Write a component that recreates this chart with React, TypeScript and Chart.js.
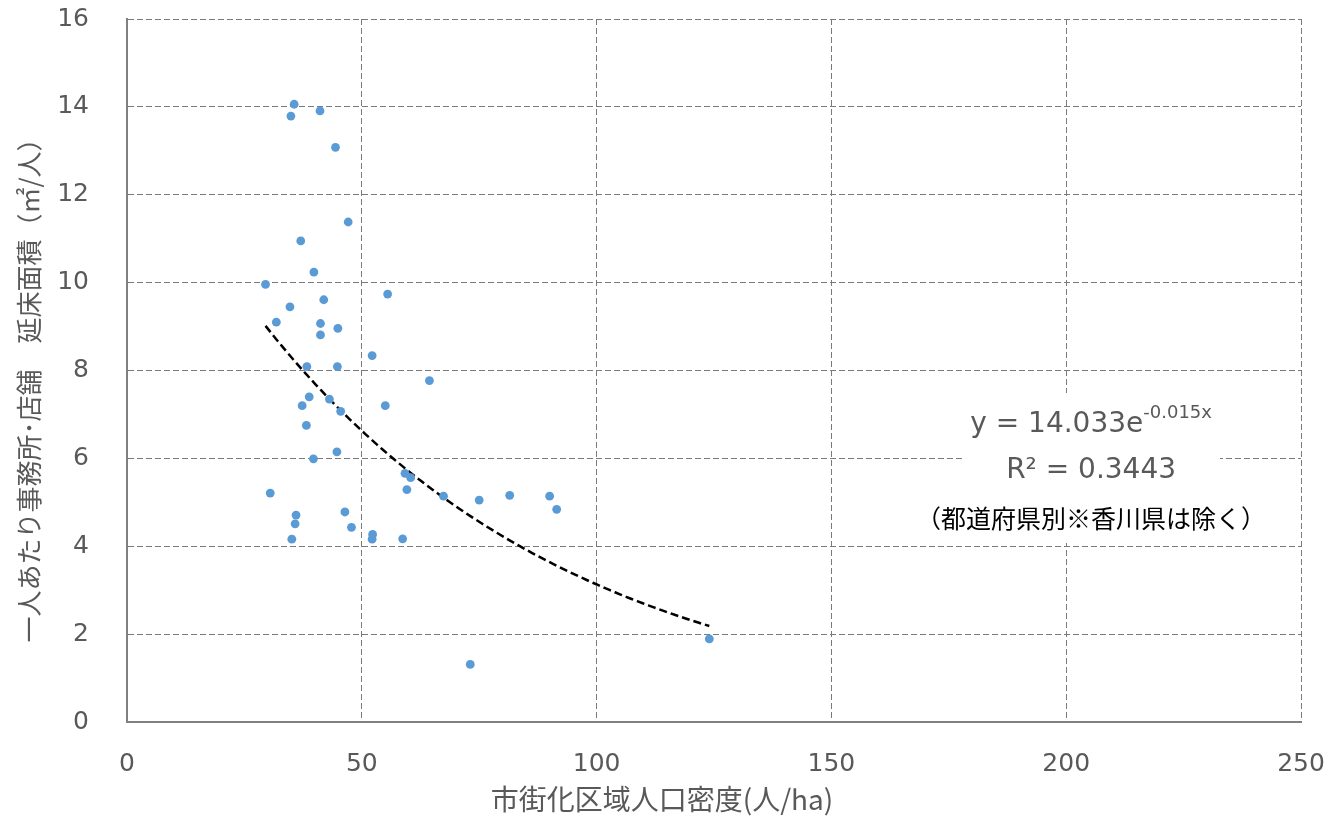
import React, { useEffect, useRef } from "react";
import { Chart, registerables } from "chart.js";

Chart.register(...registerables);

// 市街化区域人口密度 (人/ha)
const densityX: number[] = [
  35.6, 34.9, 41.1, 44.4, 47.1, 37.0, 39.8, 29.5, 55.5, 41.9, 34.7, 31.8, 41.2, 44.9, 41.2, 52.2,
  38.3, 44.8, 64.4, 38.8, 43.1, 37.3, 55.0, 45.5, 38.2, 44.7, 39.7, 59.2, 60.4, 30.5, 59.6, 67.4,
  75.0, 81.5, 90.0, 91.5, 36.0, 46.4, 35.8, 47.8, 52.3, 52.2, 35.1, 58.7, 73.1, 124.0,
];
// 一人あたり事務所・店舗 延床面積 (㎡/人)
const floorAreaY: number[] = [
  14.06, 13.79, 13.91, 13.08, 11.38, 10.95, 10.24, 9.96, 9.74, 9.61, 9.45, 9.1, 9.07, 8.96, 8.81, 8.34,
  8.09, 8.09, 7.77, 7.4, 7.35, 7.2, 7.2, 7.07, 6.75, 6.15, 5.99, 5.66, 5.56, 5.21, 5.29, 5.14,
  5.05, 5.16, 5.14, 4.84, 4.71, 4.78, 4.51, 4.43, 4.27, 4.16, 4.16, 4.17, 1.31, 1.89,
];

// trend line as stated on the chart: y = 14.033e^(-0.015x)
const trendCoefA = 14.033;
const trendCoefB = -0.015;

const xTickValues: number[] = [0, 50, 100, 150, 200, 250];
const yTickValues: number[] = [0, 2, 4, 6, 8, 10, 12, 14, 16];

const xTitle = "市街化区域人口密度(人/ha)";
const yTitle = "一人あたり事務所･店舗　延床面積（㎡/人）";
const eqMain = "y = 14.033e";
const eqSup = "-0.015x";
const r2Text = "R² = 0.3443";
const noteText = "（都道府県別※香川県は除く）";

const GRAY = "#595959";
const GRID = "#7a7a7a";
const NUM_FONT = '"DejaVu Sans", Verdana, sans-serif';
const JP_FONT = '"Noto Sans CJK JP", sans-serif';

const annotPlugin = {
  id: "annot",
  afterDraw(chart: any) {
    const ctx: CanvasRenderingContext2D = chart.ctx;
    const xs = chart.scales.x;
    ctx.save();
    // label boxes (white, hide gridlines)
    ctx.fillStyle = "#ffffff";
    ctx.fillRect(962, 393, 258, 100);
    ctx.fillRect(925, 494, 335, 49);

    const cx = xs.getPixelForValue(205.3);
    // equation
    ctx.fillStyle = GRAY;
    ctx.textBaseline = "alphabetic";
    ctx.textAlign = "left";
    ctx.font = `28px ${NUM_FONT}`;
    const w1 = ctx.measureText(eqMain).width;
    ctx.font = `18px ${NUM_FONT}`;
    const w2 = ctx.measureText(eqSup).width;
    const sx = cx - (w1 + w2) / 2;
    ctx.font = `28px ${NUM_FONT}`;
    ctx.fillText(eqMain, sx, 432);
    ctx.font = `18px ${NUM_FONT}`;
    ctx.fillText(eqSup, sx + w1, 418);
    // R2
    ctx.textAlign = "center";
    ctx.font = `28px ${NUM_FONT}`;
    ctx.fillText(r2Text, cx, 478);
    // note
    ctx.fillStyle = "#000000";
    ctx.font = `25px ${JP_FONT}`;
    ctx.fillText(noteText, cx, 528);

    // axis titles
    ctx.fillStyle = GRAY;
    ctx.font = `28px ${JP_FONT}`;
    ctx.textBaseline = "middle";
    ctx.textAlign = "center";
    ctx.fillText(xTitle, 662, 799);
    ctx.font = `26px ${JP_FONT}`;
    ctx.translate(29, 384);
    ctx.rotate(-Math.PI / 2);
    ctx.fillText(yTitle, 0, 0);
    ctx.restore();
  },
};

export default function App() {
  const ref = useRef<HTMLCanvasElement | null>(null);
  useEffect(() => {
    document.body.style.margin = "0";
    if (!ref.current) return;
    const points = densityX.map((x, i) => ({ x, y: floorAreaY[i] }));
    const xMin = Math.min(...densityX);
    const xMax = Math.max(...densityX);
    const trend: { x: number; y: number }[] = [];
    const n = 80;
    for (let i = 0; i <= n; i++) {
      const x = xMin + ((xMax - xMin) * i) / n;
      trend.push({ x, y: trendCoefA * Math.exp(trendCoefB * x) });
    }
    const chart = new Chart(ref.current, {
      type: "scatter",
      data: {
        datasets: [
          {
            label: "trend",
            data: trend,
            showLine: true,
            borderColor: "#000000",
            borderWidth: 2.5,
            borderDash: [8, 4],
            pointRadius: 0,
            fill: false,
            order: 2,
          } as any,
          {
            label: "data",
            data: points,
            backgroundColor: "#5B9BD5",
            borderColor: "#5B9BD5",
            borderWidth: 0,
            pointRadius: 4.4,
            order: 1,
          },
        ],
      },
      options: {
        responsive: false,
        animation: false,
        devicePixelRatio: 1,
        layout: { padding: { left: 0, top: 19, right: 24, bottom: 0 } },
        plugins: { legend: { display: false }, tooltip: { enabled: false } },
        scales: {
          x: {
            type: "linear",
            min: 0,
            max: 250,
            afterFit: (s: any) => {
              s.height = 96;
              s.paddingLeft = 0;
              s.paddingRight = 0;
            },
            afterBuildTicks: (s: any) => {
              s.ticks = xTickValues.map((v) => ({ value: v }));
            },
            grid: {
              color: GRID,
              lineWidth: 1,
              drawTicks: false,
            },
            border: { display: true, color: "#808080", width: 2, dash: [6, 3] },
            ticks: {
              color: GRAY,
              font: { family: NUM_FONT, size: 25 },
              padding: 27,
              maxRotation: 0,
            },
          },
          y: {
            type: "linear",
            min: 0,
            max: 16,
            afterFit: (s: any) => {
              s.width = 127;
              s.paddingTop = 0;
              s.paddingBottom = 0;
            },
            afterBuildTicks: (s: any) => {
              s.ticks = yTickValues.map((v) => ({ value: v }));
            },
            grid: {
              color: GRID,
              lineWidth: 1,
              drawTicks: false,
            },
            border: { display: true, color: "#808080", width: 2, dash: [6, 3] },
            ticks: {
              color: GRAY,
              font: { family: NUM_FONT, size: 25 },
              padding: 38,
            },
          },
        },
      },
      plugins: [annotPlugin],
    } as any);
    return () => chart.destroy();
  }, []);
  return (
    <div style={{ width: 1325, height: 818, background: "#fff" }}>
      <canvas ref={ref} width={1325} height={818} style={{ display: "block" }} />
    </div>
  );
}
